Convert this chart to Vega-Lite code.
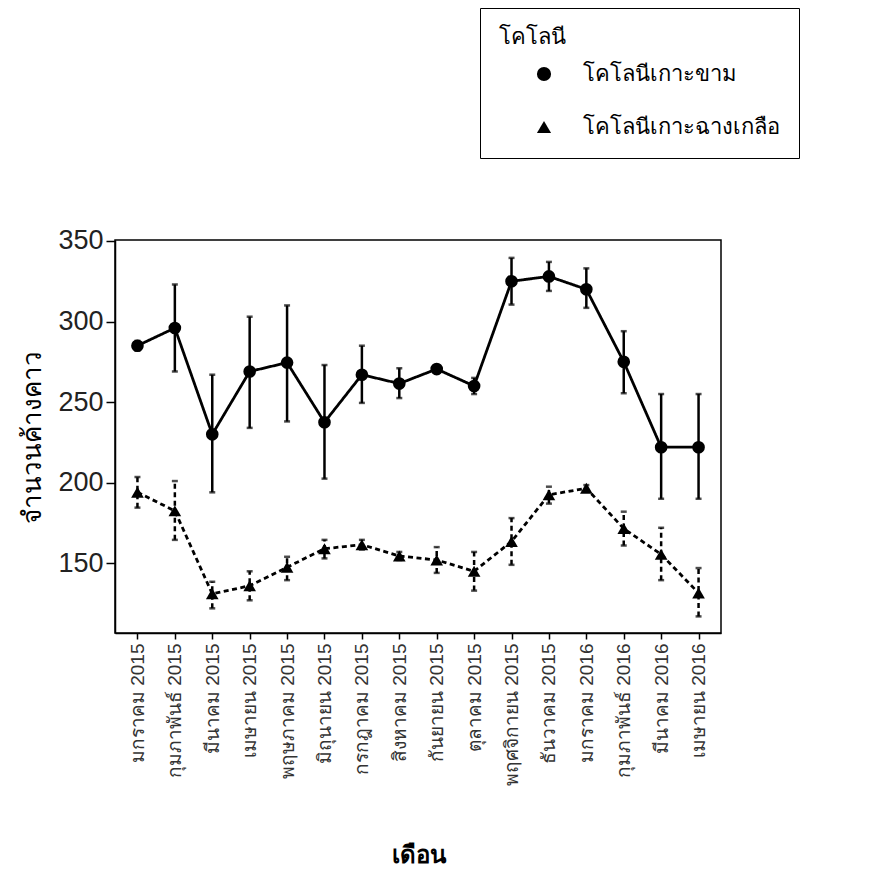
{
  "$schema": "https://vega.github.io/schema/vega-lite/v6.json",
  "width": 606,
  "height": 393,
  "autosize": {"type": "none"},
  "padding": {"left": 115, "top": 240, "right": 149, "bottom": 240},
  "background": "white",
  "config": {
    "font": "Liberation Sans",
    "view": {"stroke": "black", "strokeWidth": 1.5},
    "axis": {"grid": false, "domainColor": "black", "tickColor": "black", "domainWidth": 1.5, "tickWidth": 1.5},
    "legend": {
      "orient": "none", "legendX": 365, "legendY": -232,
      "strokeColor": "black", "padding": 19, "fillColor": "white",
      "titleFontSize": 22, "titleFontWeight": "normal", "titleColor": "black", "titlePadding": 14,
      "labelFontSize": 22, "labelColor": "black", "labelOffset": 28, "labelLimit": 400,
      "symbolSize": 200, "symbolOffset": 34, "symbolFillColor": "black", "symbolStrokeColor": "black", "symbolStrokeWidth": 2.5, "rowPadding": 28
    }
  },
  "data": {
    "values": [
      {"month": "มกราคม 2015", "colony": "โคโลนีเกาะขาม", "mean": 285, "lo": 282, "hi": 288},
      {"month": "กุมภาพันธ์ 2015", "colony": "โคโลนีเกาะขาม", "mean": 296, "lo": 269, "hi": 323},
      {"month": "มีนาคม 2015", "colony": "โคโลนีเกาะขาม", "mean": 230, "lo": 194, "hi": 267},
      {"month": "เมษายน 2015", "colony": "โคโลนีเกาะขาม", "mean": 269, "lo": 234, "hi": 303},
      {"month": "พฤษภาคม 2015", "colony": "โคโลนีเกาะขาม", "mean": 274.5, "lo": 238, "hi": 310},
      {"month": "มิถุนายน 2015", "colony": "โคโลนีเกาะขาม", "mean": 237.5, "lo": 202.5, "hi": 273},
      {"month": "กรกฎาคม 2015", "colony": "โคโลนีเกาะขาม", "mean": 267, "lo": 249.5, "hi": 285},
      {"month": "สิงหาคม 2015", "colony": "โคโลนีเกาะขาม", "mean": 261.5, "lo": 252.5, "hi": 271},
      {"month": "กันยายน 2015", "colony": "โคโลนีเกาะขาม", "mean": 270.5, "lo": 268.5, "hi": 272.5},
      {"month": "ตุลาคม 2015", "colony": "โคโลนีเกาะขาม", "mean": 260, "lo": 255, "hi": 265},
      {"month": "พฤศจิกายน 2015", "colony": "โคโลนีเกาะขาม", "mean": 325, "lo": 310.5, "hi": 339.5},
      {"month": "ธันวาคม 2015", "colony": "โคโลนีเกาะขาม", "mean": 328, "lo": 319, "hi": 337},
      {"month": "มกราคม 2016", "colony": "โคโลนีเกาะขาม", "mean": 320, "lo": 308.5, "hi": 333},
      {"month": "กุมภาพันธ์ 2016", "colony": "โคโลนีเกาะขาม", "mean": 275, "lo": 255.5, "hi": 294},
      {"month": "มีนาคม 2016", "colony": "โคโลนีเกาะขาม", "mean": 222, "lo": 190, "hi": 255},
      {"month": "เมษายน 2016", "colony": "โคโลนีเกาะขาม", "mean": 222, "lo": 190, "hi": 255},
      {"month": "มกราคม 2015", "colony": "โคโลนีเกาะฉางเกลือ", "mean": 194, "lo": 184.5, "hi": 203.5},
      {"month": "กุมภาพันธ์ 2015", "colony": "โคโลนีเกาะฉางเกลือ", "mean": 182.5, "lo": 164.5, "hi": 201},
      {"month": "มีนาคม 2015", "colony": "โคโลนีเกาะฉางเกลือ", "mean": 131, "lo": 122, "hi": 138.5},
      {"month": "เมษายน 2015", "colony": "โคโลนีเกาะฉางเกลือ", "mean": 136, "lo": 127, "hi": 145},
      {"month": "พฤษภาคม 2015", "colony": "โคโลนีเกาะฉางเกลือ", "mean": 147.5, "lo": 139.5, "hi": 154},
      {"month": "มิถุนายน 2015", "colony": "โคโลนีเกาะฉางเกลือ", "mean": 159, "lo": 153, "hi": 164.5},
      {"month": "กรกฎาคม 2015", "colony": "โคโลนีเกาะฉางเกลือ", "mean": 161.5, "lo": 158.5, "hi": 164.5},
      {"month": "สิงหาคม 2015", "colony": "โคโลนีเกาะฉางเกลือ", "mean": 154.5, "lo": 152, "hi": 157},
      {"month": "กันยายน 2015", "colony": "โคโลนีเกาะฉางเกลือ", "mean": 152, "lo": 144, "hi": 160},
      {"month": "ตุลาคม 2015", "colony": "โคโลนีเกาะฉางเกลือ", "mean": 145, "lo": 133, "hi": 157},
      {"month": "พฤศจิกายน 2015", "colony": "โคโลนีเกาะฉางเกลือ", "mean": 163.5, "lo": 149, "hi": 178},
      {"month": "ธันวาคม 2015", "colony": "โคโลนีเกาะฉางเกลือ", "mean": 192.5, "lo": 187, "hi": 197.5},
      {"month": "มกราคม 2016", "colony": "โคโลนีเกาะฉางเกลือ", "mean": 196.5, "lo": 194.5, "hi": 198.5},
      {"month": "กุมภาพันธ์ 2016", "colony": "โคโลนีเกาะฉางเกลือ", "mean": 171.5, "lo": 161, "hi": 182},
      {"month": "มีนาคม 2016", "colony": "โคโลนีเกาะฉางเกลือ", "mean": 155.5, "lo": 139.5, "hi": 172},
      {"month": "เมษายน 2016", "colony": "โคโลนีเกาะฉางเกลือ", "mean": 131.5, "lo": 117, "hi": 147}
    ]
  },
  "encoding": {
    "x": {
      "field": "month", "type": "ordinal", "sort": null,
      "scale": {"type": "point", "padding": 0.6},
      "axis": {
        "title": "เดือน", "titleFontSize": 24, "titleFontWeight": "bold", "titleColor": "black", "titlePadding": 58,
        "labelAngle": -90, "labelFontSize": 19, "labelColor": "#333", "labelPadding": 4, "tickSize": 6, "labelLimit": 300
      }
    }
  },
  "layer": [
    {
      "mark": {"type": "rule", "color": "black", "strokeWidth": 2.5},
      "encoding": {
        "y": {"field": "lo", "type": "quantitative"},
        "y2": {"field": "hi"},
        "strokeDash": {"field": "colony", "type": "nominal", "title": "โคโลนี",
          "scale": {"domain": ["โคโลนีเกาะขาม", "โคโลนีเกาะฉางเกลือ"], "range": [[1, 0], [5, 3.5]]}}
      }
    },
    {
      "mark": {"type": "tick", "color": "black", "thickness": 2.5, "size": 6},
      "encoding": {"y": {"field": "hi", "type": "quantitative"}}
    },
    {
      "mark": {"type": "tick", "color": "black", "thickness": 2.5, "size": 6},
      "encoding": {"y": {"field": "lo", "type": "quantitative"}}
    },
    {
      "mark": {"type": "line", "color": "black", "strokeWidth": 2.8},
      "encoding": {
        "y": {"field": "mean", "type": "quantitative"},
        "strokeDash": {"field": "colony", "type": "nominal", "title": "โคโลนี"}
      }
    },
    {
      "mark": {"type": "point", "filled": true, "color": "black", "opacity": 1, "size": 160},
      "encoding": {
        "y": {
          "field": "mean", "type": "quantitative",
          "scale": {"domain": [106.7, 350.6], "nice": false, "zero": false},
          "axis": {
            "title": "จำนวนค้างคาว", "titleFontSize": 26, "titleFontWeight": "normal", "titleColor": "black", "titlePadding": 12,
            "values": [150, 200, 250, 300, 350], "labelFontSize": 27, "labelColor": "#222", "tickSize": 9, "labelPadding": 3
          }
        },
        "shape": {
          "field": "colony", "type": "nominal", "title": "โคโลนี",
          "scale": {"domain": ["โคโลนีเกาะขาม", "โคโลนีเกาะฉางเกลือ"], "range": ["circle", "triangle-up"]}
        }
      }
    }
  ]
}
